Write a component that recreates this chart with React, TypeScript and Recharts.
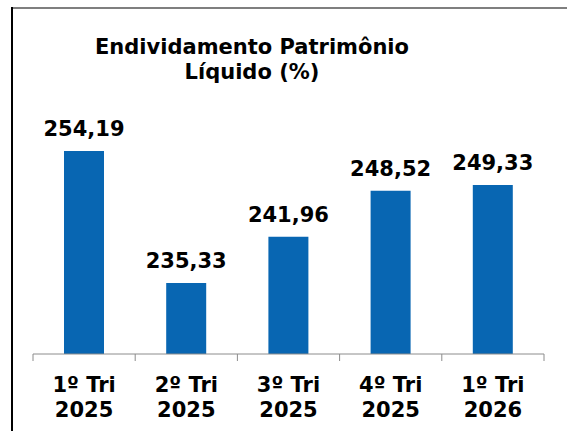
import { BarChart, Bar, XAxis, YAxis, LabelList } from 'recharts';

const quarters = ['1º Tri', '2º Tri', '3º Tri', '4º Tri', '1º Tri'];
const years = ['2025', '2025', '2025', '2025', '2026'];
const values = [254.19, 235.33, 241.96, 248.52, 249.33];
const boundaryTicks = [0, 1, 2, 3, 4, 5];

const data = values.map((v, i) => ({
  name: `${quarters[i]}|${years[i]}`,
  pos: i + 0.5,
  value: v,
}));

const FONT = '"DejaVu Sans", Verdana, sans-serif';

const fmt = (v: number) => v.toFixed(2).replace('.', ',');

const CategoryTick = ({ x, y, payload }: any) => {
  const [q, yr] = String(payload.value).split('|');
  return (
    <text
      x={x}
      textAnchor="middle"
      fontFamily={FONT}
      fontWeight="bold"
      fontSize={21}
      fill="#000"
    >
      <tspan x={x} y={y + 28}>{q}</tspan>
      <tspan x={x} y={y + 53}>{yr}</tspan>
    </text>
  );
};

export default function App() {
  return (
    <div style={{ position: 'relative', width: 567, height: 431, background: '#fff' }}>
      <style>{`body{margin:0}`}</style>
      <div style={{ position: 'absolute', left: 11, top: 7, right: 0, height: 2, background: '#7f7f7f' }} />
      <div style={{ position: 'absolute', left: 11, top: 7, bottom: 0, width: 2, background: '#000' }} />
      <div
        style={{
          position: 'absolute',
          left: 0,
          top: 35,
          width: 504,
          textAlign: 'center',
          fontFamily: FONT,
          fontWeight: 'bold',
          fontSize: 21,
          lineHeight: '25px',
          color: '#000',
        }}
      >
        Endividamento Patrimônio
        <br />
        Líquido (%)
      </div>
      <BarChart
        width={567}
        height={431}
        data={data}
        margin={{ top: 109, right: 23, left: 33, bottom: 18 }}
        style={{ position: 'absolute', left: 0, top: 0 }}
      >
        {/* baseline + category boundary ticks, drawn first so they sit on the plot bottom */}
        <XAxis
          xAxisId={0}
          dataKey="pos"
          type="number"
          domain={[0, 5]}
          ticks={boundaryTicks}
          height={1}
          axisLine={{ stroke: '#8c8c8c', strokeWidth: 1 }}
          tickLine={{ stroke: '#8c8c8c', strokeWidth: 1 }}
          tickSize={7}
          tick={() => <g />}
          allowDataOverflow
        />
        <XAxis
          xAxisId={1}
          dataKey="name"
          height={58}
          axisLine={false}
          tickLine={false}
          tickSize={7}
          interval={0}
          tick={<CategoryTick />}
        />
        <YAxis hide domain={[225.2, 260.2]} allowDataOverflow />
        <Bar xAxisId={1} dataKey="value" fill="#0866b2" barSize={40} isAnimationActive={false}>
          <LabelList
            dataKey="value"
            position="top"
            offset={15}
            formatter={(v: any) => fmt(Number(v))}
            style={{ fontFamily: FONT, fontWeight: 'bold', fontSize: 21, fill: '#000' }}
          />
        </Bar>
      </BarChart>
    </div>
  );
}
